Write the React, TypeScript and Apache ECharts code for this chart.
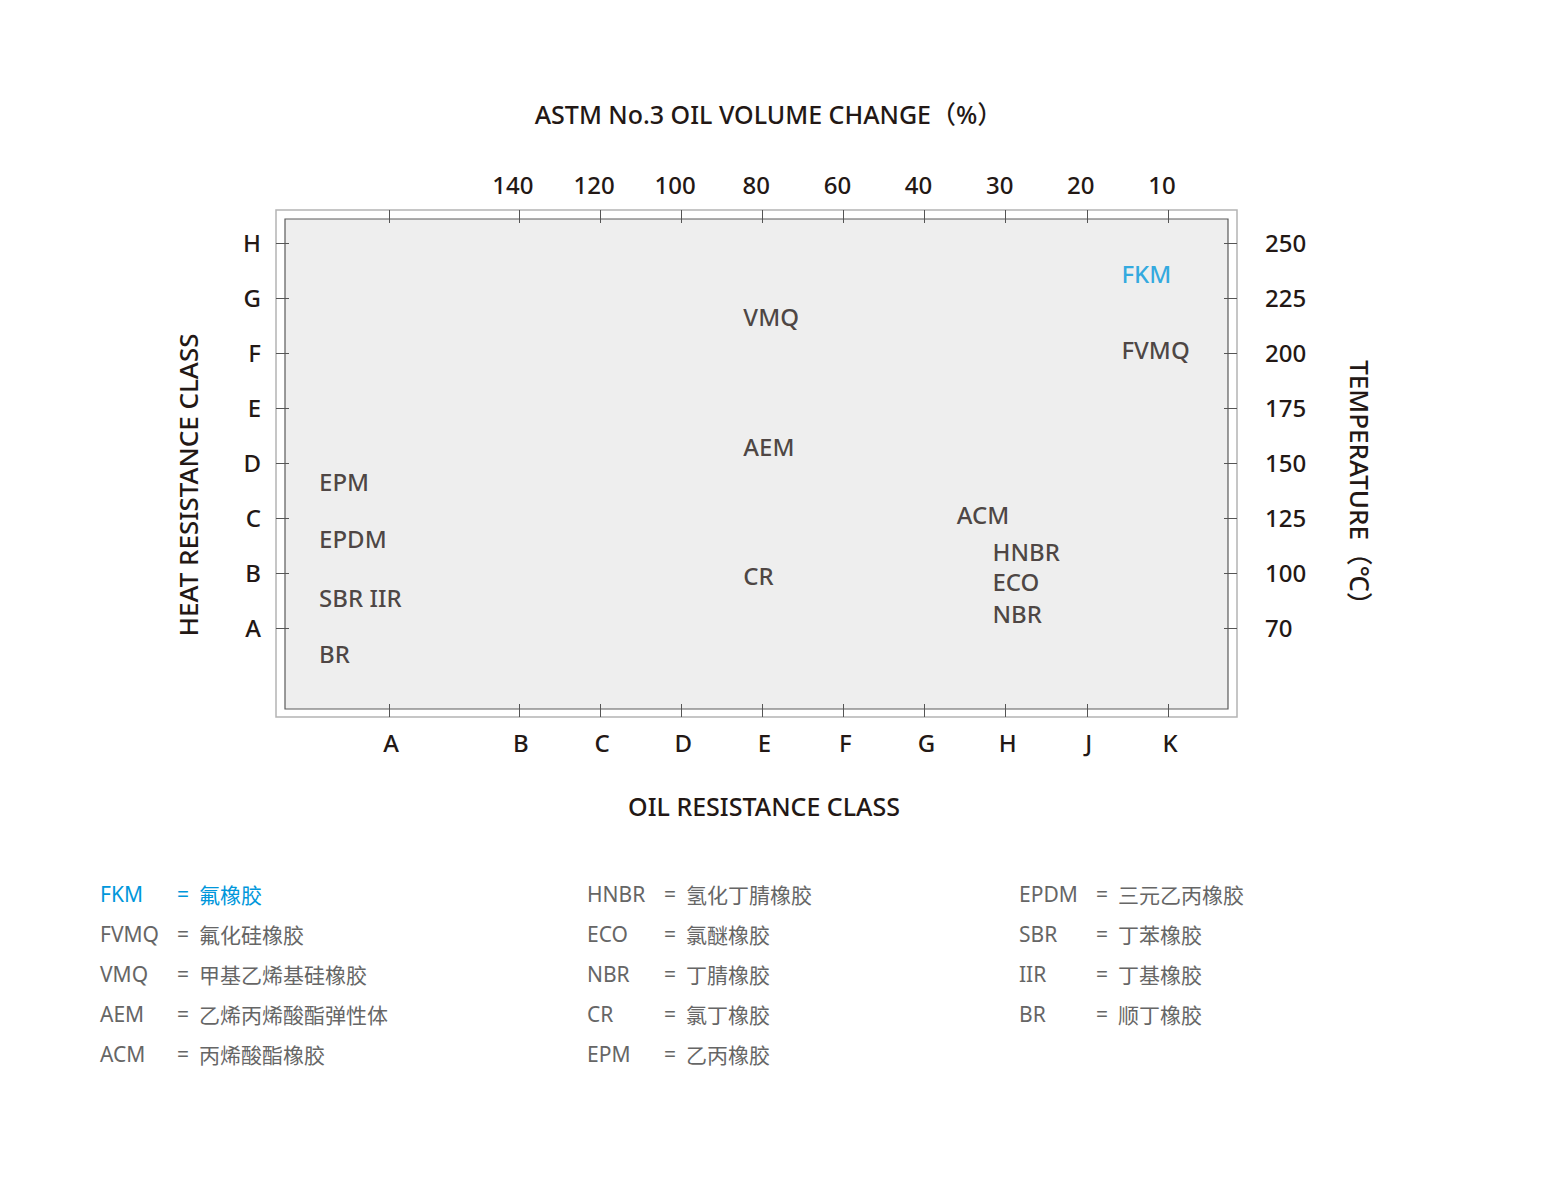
import React, { useEffect, useRef } from "react";
import * as echarts from "echarts";

// ---- Data ----
const oilClasses = ["A", "B", "C", "D", "E", "F", "G", "H", "J", "K"];
const oilClassPos = [-0.6, 1, 2, 3, 4, 5, 6, 7, 8, 9];
const volumeChangeLabels = ["140", "120", "100", "80", "60", "40", "30", "20", "10"]; // for B..K
const heatClasses = ["A", "B", "C", "D", "E", "F", "G", "H"];
const heatClassPos = [1, 2, 3, 4, 5, 6, 7, 8];
const temperatureLabels = ["70", "100", "125", "150", "175", "200", "225", "250"];

const materials = ["FKM", "FVMQ", "VMQ", "AEM", "CR", "EPM", "EPDM", "SBR IIR", "BR", "ACM", "HNBR", "ECO", "NBR"];
const materialOil = [8.42, 8.42, 3.76, 3.76, 3.76, -1.47, -1.47, -1.47, -1.47, 6.39, 6.83, 6.83, 6.83];
const materialHeat = [7.42, 6.04, 6.65, 4.29, 1.93, 3.64, 2.6, 1.545, 0.51, 3.05, 2.38, 1.82, 1.25];

const legendCodes = [
  ["FKM", "FVMQ", "VMQ", "AEM", "ACM"],
  ["HNBR", "ECO", "NBR", "CR", "EPM"],
  ["EPDM", "SBR", "IIR", "BR"],
];
const legendNames = [
  ["氟橡胶", "氟化硅橡胶", "甲基乙烯基硅橡胶", "乙烯丙烯酸酯弹性体", "丙烯酸酯橡胶"],
  ["氢化丁腈橡胶", "氯醚橡胶", "丁腈橡胶", "氯丁橡胶", "乙丙橡胶"],
  ["三元乙丙橡胶", "丁苯橡胶", "丁基橡胶", "顺丁橡胶"],
];
const highlighted = "FKM";

// ---- Styles ----
const INK = "#231815";
const BLUE = "#0097db";
const GREY = "#666666";
const FONT = "'Noto Sans', 'Open Sans', 'Noto Sans CJK SC', sans-serif";
const LEGEND_FONT = "'Noto Sans', 'Open Sans', 'Noto Sans CJK SC', sans-serif";
const CJK_FONT = "'Noto Sans CJK SC', sans-serif";

const X_MIN = -1.884;
const X_MAX = 9.74;
const Y_MIN = -0.473;
const Y_MAX = 8.436;

export default function App() {
  const ref = useRef<HTMLDivElement>(null);

  useEffect(() => {
    if (!ref.current) return;
    const chart = echarts.init(ref.current, undefined, { renderer: "svg" });

    const tickStyle = { color: "#555555", width: 1 };
    const labelBase = { color: INK, fontSize: 24, fontFamily: FONT, fontWeight: 500 };

    const legendGraphics: any[] = [];
    const colX = [100, 587, 1019];
    const rowY0 = 894;
    const rowGap = 40;
    legendCodes.forEach((col, ci) => {
      col.forEach((code, ri) => {
        const color = code === highlighted ? BLUE : GREY;
        const y = rowY0 + ri * rowGap;
        legendGraphics.push({
          type: "text",
          x: colX[ci],
          y,
          style: {
            text: code,
            fill: color,
            font: `21px ${LEGEND_FONT}`,
            align: "left",
            verticalAlign: "middle",
          },
        });
        legendGraphics.push({
          type: "text",
          x: colX[ci] + 77,
          y,
          style: {
            text: "=",
            fill: color,
            font: `21px ${LEGEND_FONT}`,
            align: "left",
            verticalAlign: "middle",
          },
        });
        legendGraphics.push({
          type: "text",
          x: colX[ci] + 99,
          y,
          style: {
            text: legendNames[ci][ri],
            fill: color,
            font: `21px ${CJK_FONT}`,
            align: "left",
            verticalAlign: "middle",
          },
        });
      });
    });

    const option: any = {
      animation: false,
      grid: {
        left: 285,
        top: 219,
        width: 943,
        height: 490,
        show: true,
        backgroundColor: "#eeeeee",
        borderColor: "#5a5a5a",
        borderWidth: 1.2,
        containLabel: false,
      },
      xAxis: [
        {
          type: "value",
          position: "bottom",
          min: X_MIN,
          max: X_MAX,
          offset: 8,
          name: "OIL RESISTANCE CLASS",
          nameLocation: "middle",
          nameGap: 76,
          nameTextStyle: { color: INK, fontSize: 25, fontFamily: FONT, fontWeight: 500, padding: [0, 0, 0, 15] },
          axisLine: { show: false, onZero: false },
          splitLine: { show: false },
          axisTick: { show: true, inside: true, length: 13, lineStyle: tickStyle, customValues: oilClassPos },
          axisLabel: {
            ...labelBase,
            margin: 13,
            padding: [0, 0, 0, 4],
            customValues: oilClassPos,
            formatter: (v: number) => {
              const i = oilClassPos.findIndex((p) => Math.abs(p - v) < 1e-6);
              return i >= 0 ? oilClasses[i] : "";
            },
          },
          z: 5,
        },
        {
          type: "value",
          position: "top",
          min: X_MIN,
          max: X_MAX,
          offset: 9,
          name: "ASTM No.3 OIL VOLUME CHANGE（%）",
          nameLocation: "middle",
          nameGap: 84,
          nameTextStyle: { color: INK, fontSize: 25, fontFamily: FONT, fontWeight: 500, padding: [0, 0, 0, 24] },
          axisLine: { show: false, onZero: false },
          splitLine: { show: false },
          axisTick: { show: true, inside: true, length: 13, lineStyle: tickStyle, customValues: oilClassPos },
          axisLabel: {
            ...labelBase,
            margin: 14,
            padding: [0, 12, 0, 0],
            customValues: oilClassPos.slice(1),
            formatter: (v: number) => {
              const i = oilClassPos.slice(1).findIndex((p) => Math.abs(p - v) < 1e-6);
              return i >= 0 ? volumeChangeLabels[i] : "";
            },
          },
          z: 5,
        },
      ],
      yAxis: [
        {
          type: "value",
          position: "left",
          min: Y_MIN,
          max: Y_MAX,
          offset: 9,
          axisLine: { show: false, onZero: false },
          splitLine: { show: false },
          axisTick: { show: true, inside: true, length: 13, lineStyle: tickStyle, customValues: heatClassPos },
          axisLabel: {
            ...labelBase,
            margin: 15,
            customValues: heatClassPos,
            formatter: (v: number) => {
              const i = heatClassPos.indexOf(Math.round(v));
              return i >= 0 ? heatClasses[i] : "";
            },
          },
          z: 5,
        },
        {
          type: "value",
          position: "right",
          min: Y_MIN,
          max: Y_MAX,
          offset: 9,
          axisLine: { show: false, onZero: false },
          splitLine: { show: false },
          axisTick: { show: true, inside: true, length: 13, lineStyle: tickStyle, customValues: heatClassPos },
          axisLabel: {
            ...labelBase,
            margin: 28,
            customValues: heatClassPos,
            formatter: (v: number) => {
              const i = heatClassPos.indexOf(Math.round(v));
              return i >= 0 ? temperatureLabels[i] : "";
            },
          },
          z: 5,
        },
      ],
      graphic: [
        {
          type: "rect",
          z: 1,
          silent: true,
          shape: { x: 276, y: 210, width: 961, height: 507 },
          style: { fill: "none", stroke: "#b4b4b4", lineWidth: 1.5 },
        },
        {
          type: "text",
          x: 188,
          y: 485,
          rotation: Math.PI / 2,
          style: {
            text: "HEAT RESISTANCE CLASS",
            fill: INK,
            font: `500 26px ${FONT}`,
            align: "center",
            verticalAlign: "middle",
          },
        },
        {
          type: "text",
          x: 1360,
          y: 489,
          rotation: -Math.PI / 2,
          style: {
            text: "TEMPERATURE（℃）",
            fill: INK,
            font: `500 26px ${FONT}`,
            align: "center",
            verticalAlign: "middle",
          },
        },
        ...legendGraphics,
      ],
      series: [
        {
          type: "scatter",
          xAxisIndex: 0,
          yAxisIndex: 0,
          symbolSize: 1,
          itemStyle: { color: "transparent" },
          silent: true,
          z: 6,
          data: materials.map((m, i) => ({
            value: [materialOil[i], materialHeat[i]],
            name: m,
            label: { color: m === highlighted ? BLUE : INK },
          })),
          label: {
            show: true,
            position: "right",
            distance: 0,
            offset: [0, -1],
            formatter: (p: any) => p.name,
            fontSize: 24,
            fontWeight: 500,
            lineHeight: 26,
            fontFamily: FONT,
            color: INK,
            align: "left",
            verticalAlign: "middle",
          },
        },
      ],
    };

    chart.setOption(option);
    return () => chart.dispose();
  }, []);

  return (
    <div
      ref={ref}
      style={{ position: "fixed", left: 0, top: 0, width: 1550, height: 1180, background: "#ffffff" }}
    />
  );
}
